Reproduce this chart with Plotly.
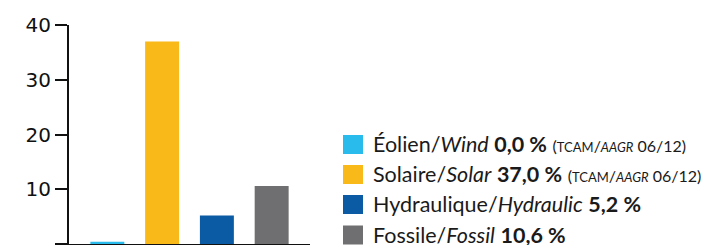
import plotly.graph_objects as go

categories = ["Éolien", "Solaire", "Hydraulique", "Fossile"]
values = [0.4, 37.0, 5.2, 10.6]
colors = ["#29BBEB", "#F9B919", "#0B5BA4", "#6F6F71"]
legend_labels = [
    'Éolien/<i>Wind</i> <b>0,0 %</b> <span style="font-size:16px">(<span style="font-size:13px">TCAM</span>/<i><span style="font-size:13px">AAGR</span></i> 06/12)</span>',
    'Solaire/<i>Solar</i> <b>37,0 %</b> <span style="font-size:16px">(<span style="font-size:13px">TCAM</span>/<i><span style="font-size:13px">AAGR</span></i> 06/12)</span>',
    'Hydraulique/<i>Hydraulic</i> <b>5,2 %</b>',
    'Fossile/<i>Fossil</i> <b>10,6 %</b>',
]
y_ticks = [0, 10, 20, 30, 40]

W, H = 702, 245
ml, mr, mt, mb = 69, 392, 25, 1
pw, ph = W - ml - mr, H - mt - mb

fig = go.Figure()
fig.add_trace(go.Bar(
    x=list(range(len(categories))), y=values,
    marker=dict(color=colors, line=dict(width=0)),
    width=0.62, showlegend=False, hoverinfo="skip",
))

def px2paper_x(px):
    return (px - ml) / pw

def px2paper_y(py):
    return (H - mb - py) / ph

row_centers = [144.5, 174.5, 204.5, 235]
shapes = []
annotations = []
for i, (lab, col) in enumerate(zip(legend_labels, colors)):
    cy = row_centers[i]
    shapes.append(dict(
        type="rect", xref="paper", yref="paper",
        x0=px2paper_x(343), x1=px2paper_x(363),
        y0=px2paper_y(cy + 9.5), y1=px2paper_y(cy - 9.5),
        fillcolor=col, line=dict(width=0),
    ))
    annotations.append(dict(
        xref="paper", yref="paper", x=px2paper_x(371), y=px2paper_y(cy - 0.5),
        xanchor="left", yanchor="middle", text=lab, showarrow=False,
        font=dict(family="Lato", size=21.5, color="#1a1a1a"),
    ))

fig.update_layout(
    width=W, height=H,
    margin=dict(l=ml, r=mr, t=mt, b=mb, pad=0),
    plot_bgcolor="white", paper_bgcolor="white",
    shapes=shapes, annotations=annotations,
    xaxis=dict(range=[-0.7, 3.7], showticklabels=False, ticks="",
               showgrid=False, zeroline=False, showline=True,
               linecolor="#111111", linewidth=2, fixedrange=True),
    yaxis=dict(range=[0, 40], tickvals=y_ticks, ticks="outside", ticklen=12,
               tickwidth=2, tickcolor="#111111", showgrid=False, zeroline=False,
               showline=True, linecolor="#111111", linewidth=2,
               tickfont=dict(family="DejaVu Sans", size=20, color="#111111"),
               fixedrange=True),
)

fig.write_html("out.html", config={"displayModeBar": False},
               post_script="document.body.style.margin='0';")
